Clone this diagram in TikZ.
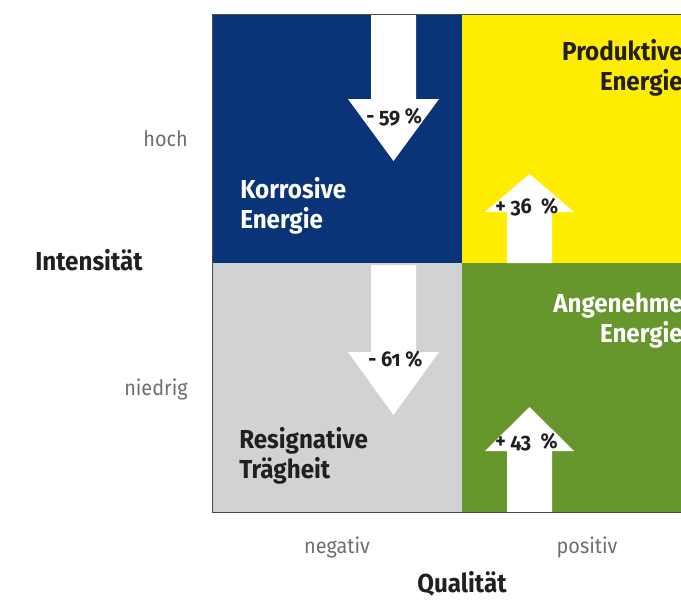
\documentclass[tikz,border=0pt]{standalone}
\usepackage{fontspec}
\setmainfont{Fira Sans}[Numbers=OldStyle, FakeStretch=0.93]
\usetikzlibrary{positioning}

\definecolor{korrosiv}{RGB}{10,52,120}
\definecolor{produktiv}{RGB}{255,237,0}
\definecolor{resignativ}{RGB}{209,210,212}
\definecolor{angenehm}{RGB}{102,150,44}
\definecolor{achsgrau}{RGB}{110,110,112}
\definecolor{dunkel}{RGB}{35,31,32}

\begin{document}
\begin{tikzpicture}[x=0.75pt, y=-0.75pt,
    feld/.style={font=\bfseries\fontsize{19.5}{22.5}\selectfont, inner sep=0pt},
    achse/.style={font=\fontsize{16}{19}\selectfont, text=achsgrau, inner sep=0pt},
    titel/.style={font=\bfseries\fontsize{19.5}{22.5}\selectfont, text=dunkel, inner sep=0pt},
    prozent/.style={font=\bfseries\fontsize{16}{19}\selectfont, text=dunkel, inner sep=0pt},
    pfeil/.style={fill=white}]
    \useasboundingbox (0,0) rectangle (681,607);
    \clip (0,0) rectangle (681,607);

    % vier Felder
    \fill[korrosiv]   (212,14)  rectangle (462,263);
    \fill[produktiv]  (462,14)  rectangle (712,263);
    \fill[resignativ] (212,263) rectangle (462,512);
    \fill[angenehm]   (462,263) rectangle (712,512);

    % Pfeile
    \fill[pfeil] (371,14) -- (416,14) -- (416,99) -- (439,99) -- (393.5,161) -- (348,99) -- (371,99) -- cycle;
    \fill[pfeil] (371,265) -- (416,265) -- (416,352) -- (439,352) -- (393.5,415) -- (348,352) -- (371,352) -- cycle;
    \fill[pfeil] (507,263) -- (552,263) -- (552,212) -- (574,212) -- (529.5,174) -- (485,212) -- (507,212) -- cycle;
    \fill[pfeil] (507,512) -- (552,512) -- (552,451) -- (574,451) -- (529.5,407) -- (485,451) -- (507,451) -- cycle;

    \draw[black!70, line width=0.6pt] (212,14) rectangle (712,512);

    \node[prozent, anchor=base west] (minus59) at (366,123) {- 59 \%};
    \node[prozent, anchor=base west] (minus61) at (368,366) {- 61 \%};
    \node[prozent, anchor=base west] (plus36) at (495,213) {+ 36\ \ \%};
    \node[prozent, anchor=base west] (plus43) at (495,448) {+ 43\ \ \%};

    % Grundlinie = letzte Zeile
    \node[feld, text=white, align=left, anchor=base west] (korr) at (240,228) {Korrosive\\Energie};
    \node[feld, text=dunkel, align=left, anchor=base west] (resig) at (239,478) {Resignative\\Trägheit};
    \node[feld, text=dunkel, align=right, anchor=base east] (prod) at (683,90) {Produktive\\Energie};
    \node[feld, text=white, align=right, anchor=base east] (angen) at (683,342) {Angenehme\\Energie};

    % Achsen
    \node[achse, anchor=base east] (hoch) at (188,146) {hoch};
    \node[achse, anchor=base east] (niedrig) at (188,395) {niedrig};
    \node[titel, anchor=base west] (intens) at (35,270) {Intensität};
    \node[achse, anchor=base] (negativ) at (337,553) {negativ};
    \node[achse, anchor=base] (positiv) at (587,553) {positiv};
    \node[titel, anchor=base] (qual) at (462,592) {Qualität};
\end{tikzpicture}
\end{document}
